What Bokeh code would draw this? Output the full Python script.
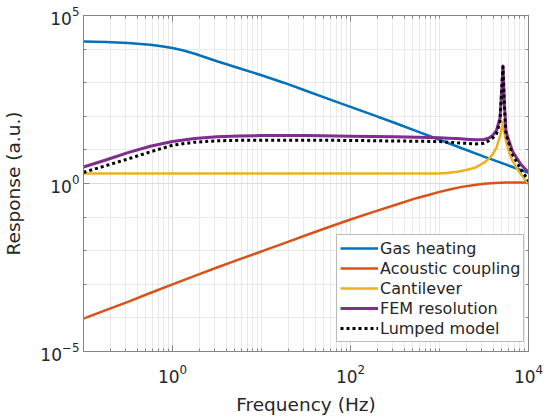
from bokeh.plotting import figure
from bokeh.models import FixedTicker, LogAxis, Legend, LegendItem, CustomJSTickFormatter
from bokeh.embed import file_html
from bokeh.resources import INLINE

# ---- data (Hz, arbitrary units) ----
freq_gas = [0.1, 0.178, 0.316, 0.562, 0.750, 1.0, 1.33, 1.78, 2.37, 3.16, 5.62, 10,
            17.8, 31.6, 56.2, 100, 178, 316, 562, 1000, 1778, 3162, 5623, 10000]
gas_heating = [1.68e4, 1.62e4, 1.51e4, 1.35e4, 1.22e4, 1.08e4, 9120, 7244, 5623, 4365,
               2692, 1660, 1000, 575, 331, 191, 110, 63.1, 35.5, 20.0, 11.2, 6.31,
               3.63, 2.09]

freq_acoustic = [0.1, 0.178, 0.316, 0.562, 1.0, 1.78, 3.16, 5.62, 10, 17.8, 31.6,
                 56.2, 100, 178, 316, 562, 750, 1000, 1334, 1778, 2371, 3162, 4217,
                 5623, 7499, 10000]
acoustic_coupling = [9.5e-5, 1.7e-4, 3.0e-4, 5.5e-4, 1.0e-3, 1.78e-3, 3.16e-3, 5.5e-3,
                     9.5e-3, 0.0166, 0.0288, 0.050, 0.085, 0.141, 0.229, 0.372, 0.457,
                     0.562, 0.676, 0.794, 0.891, 0.977, 1.035, 1.07, 1.08, 1.08]

freq_fine = [0.1, 0.178, 0.316, 0.562, 1.0, 1.78, 3.16, 5.62, 10, 31.6, 100, 316, 1000,
             1259, 1585, 1995, 2512, 3162, 3631, 3981, 4365, 4786, 5012, 5164, 5370,
             5585, 6026, 6607, 7413, 8204, 9120, 10000]
cantilever = [2.0, 2.0, 2.0, 2.0, 2.0, 2.0, 2.0, 2.0, 2.0, 2.0, 2.0, 2.0, 2.0,
              2.09, 2.24, 2.51, 2.95, 4.17, 5.62, 7.59, 11.7, 25.1, 44.7, 66.1, 31.6,
              18.2, 8.91, 4.68, 2.82, 1.91, 1.32, 0.955]
fem_resolution = [3.09, 5.01, 8.32, 12.9, 17.8, 21.9, 24.5, 26.0, 26.6, 26.6, 25.7,
                  24.5, 22.9, 22.4, 21.9, 20.9, 20.0, 20.4, 22.9, 27.5, 38.0, 89.1, 676,
                  3162, 219, 35.5, 18.6, 9.12, 5.62, 3.72, 2.75, 2.14]
lumped_model = [2.14, 3.39, 5.37, 8.71, 13.8, 17.0, 18.6, 19.3, 19.5, 19.5, 19.1, 18.4,
                17.8, 17.0, 16.2, 15.7, 15.1, 15.8, 19.1, 22.9, 30.2, 70.8, 676, 2951,
                178, 28.5, 15.5, 7.33, 4.27, 2.63, 1.74, 1.20]

x_major = [1, 100, 10000]
y_major = [1e-5, 1, 1e5]

FONT = "DejaVu Sans"
AX = "#858585"
TXT = "#262626"

x_minor = [m * 10.0 ** e for e in range(-1, 4) for m in range(1, 10)]
x_minor = [v for v in x_minor if all(abs(v - t) > 1e-9 * t for t in x_major)]
y_minor = [10.0 ** e for e in range(-5, 6)]
y_minor = [v for v in y_minor if all(abs(v - t) > 1e-9 * t for t in y_major)]

xt = FixedTicker(ticks=x_major, minor_ticks=x_minor)
yt = FixedTicker(ticks=y_major, minor_ticks=y_minor)

p = figure(width=550, height=417, x_axis_type="log", y_axis_type="log",
           x_range=(0.1, 1e4), y_range=(1e-5, 1e5),
           output_backend="svg", toolbar_location=None,
           min_border_left=78, min_border_right=22, min_border_top=15, min_border_bottom=63,
           x_axis_label="Frequency (Hz)", y_axis_label="Response (a.u.)")
p.outline_line_color = AX
p.background_fill_color = "white"
p.border_fill_color = "white"

for ax in (p.xaxis[0], p.yaxis[0]):
    ax.axis_line_color = AX
    ax.major_tick_line_color = AX
    ax.minor_tick_line_color = AX
    ax.major_tick_in = 6
    ax.major_tick_out = 0
    ax.minor_tick_in = 3
    ax.minor_tick_out = 0
    ax.major_label_text_font = FONT
    ax.major_label_text_font_size = "17px"
    ax.major_label_text_color = TXT
    ax.axis_label_text_font = FONT
    ax.axis_label_text_font_size = "18.5px"
    ax.axis_label_text_font_style = "normal"
    ax.axis_label_text_color = TXT
p.xaxis[0].ticker = xt
p.yaxis[0].ticker = yt
p.xaxis[0].major_label_standoff = 12
p.xaxis[0].axis_label_standoff = 8
p.yaxis[0].major_label_standoff = 4
p.yaxis[0].axis_label_standoff = 13

p.xgrid.ticker = xt
p.ygrid.ticker = yt
for g in (p.xgrid[0], p.ygrid[0]):
    g.grid_line_color = "#dcdcdc"
    g.minor_grid_line_color = "#e9e9e9"

for place, tk in (("right", yt), ("above", xt)):
    a = LogAxis(ticker=tk, axis_line_color=AX, major_tick_line_color=AX,
                minor_tick_line_color=AX, major_tick_in=6, major_tick_out=0,
                minor_tick_in=3, minor_tick_out=0,
                formatter=CustomJSTickFormatter(code="return ''"),
                major_label_standoff=0)
    p.add_layout(a, place)

r1 = p.line(freq_gas, gas_heating, line_color="#0072BD", line_width=2.5)
r2 = p.line(freq_acoustic, acoustic_coupling, line_color="#D95319", line_width=2.5)
r3 = p.line(freq_fine, cantilever, line_color="#EDB120", line_width=2.5, line_join="round")
r4 = p.line(freq_fine, fem_resolution, line_color="#7E2F8E", line_width=3, line_join="round")
r5 = p.line(freq_fine, lumped_model, line_color="black", line_width=3, line_dash="3 3",
            line_join="round")

legend = Legend(items=[LegendItem(label="Gas heating", renderers=[r1]),
                       LegendItem(label="Acoustic coupling", renderers=[r2]),
                       LegendItem(label="Cantilever", renderers=[r3]),
                       LegendItem(label="FEM resolution", renderers=[r4]),
                       LegendItem(label="Lumped model", renderers=[r5])],
                location=(253, 9))
legend.label_text_font = FONT
legend.label_text_font_size = "16px"
legend.label_text_color = TXT
legend.glyph_width = 38
legend.glyph_height = 20
legend.label_height = 20
legend.spacing = 0
legend.padding = 3
legend.label_standoff = 2
legend.margin = 0
legend.border_line_color = "#777777"
legend.background_fill_alpha = 1
p.add_layout(legend)

open("out.html", "w").write(file_html(p, INLINE))
